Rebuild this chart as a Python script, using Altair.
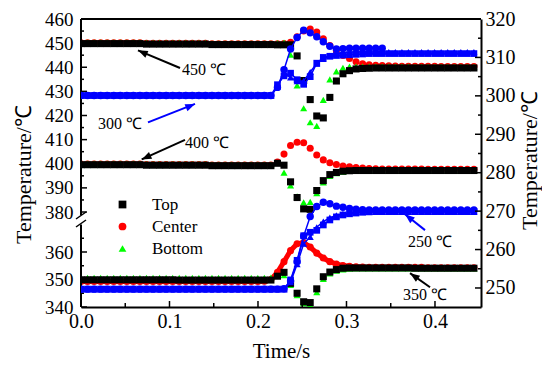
import altair as alt
import pandas as pd

# ---------------- data ----------------
TIME = [0.0, 0.0074, 0.0148, 0.0222, 0.0296, 0.037, 0.0444, 0.0518, 0.0592, 0.0666,
        0.074, 0.0814, 0.0888, 0.0962, 0.1036, 0.111, 0.1184, 0.1258, 0.1332, 0.1406,
        0.148, 0.1554, 0.1628, 0.1702, 0.1776, 0.185, 0.1924, 0.1998, 0.2072, 0.2146,
        0.222, 0.2294, 0.2368, 0.2442, 0.2516, 0.259, 0.2664, 0.2738, 0.2812, 0.2886,
        0.296, 0.3034, 0.3108, 0.3182, 0.3256, 0.333, 0.3404, 0.3478, 0.3552, 0.3626,
        0.37, 0.3774, 0.3848, 0.3922, 0.3996, 0.407, 0.4144, 0.4218, 0.4292, 0.4366,
        0.444]

# left axis cases (450, 400, 350 degC)
TOP_450 = [449.8, 449.8, 449.8, 449.8, 449.8, 449.8, 449.8, 449.8, 449.8, 449.8,
           449.6, 449.6, 449.6, 449.6, 449.6, 449.6, 449.6, 449.6, 449.6, 449.6,
           449.4, 449.4, 449.4, 449.4, 449.4, 449.4, 449.4, 449.4, 449.4, 449.4,
           449.3, 449.3, 449.3, 444.7, 434.5, 426.6, 419.8, 419.0, 427.5, 434.3,
           437.3, 438.6, 439.3, 439.5, 439.6, 439.7, 439.7, 439.7, 439.7, 439.7,
           439.7, 439.7, 439.7, 439.7, 439.7, 439.7, 439.7, 439.7, 439.7, 439.7,
           439.7]
CENTER_450 = [450.1, 450.1, 450.1, 450.1, 450.1, 450.1, 450.1, 450.1, 450.1, 450.1,
              449.9, 449.9, 449.9, 449.9, 449.9, 449.9, 449.9, 449.9, 449.9, 449.9,
              449.7, 449.7, 449.7, 449.7, 449.7, 449.7, 449.7, 449.7, 449.7, 449.7,
              449.7, 449.8, 450.3, 452.6, 455.0, 455.8, 454.6, 451.8, 449.0, 446.8,
              444.9, 443.6, 442.3, 441.4, 441.0, 440.8, 440.7, 440.6, 440.5, 440.4,
              440.4, 440.4, 440.4, 440.4, 440.4, 440.3, 440.3, 440.3, 440.3, 440.3,
              440.3]
BOTTOM_450 = [450.3, 450.3, 450.3, 450.3, 450.3, 450.3, 450.3, 450.3, 450.3, 450.3,
              450.1, 450.1, 450.1, 450.1, 450.1, 450.1, 450.1, 450.1, 450.1, 450.1,
              449.9, 449.9, 449.9, 449.9, 449.9, 449.9, 449.9, 449.9, 449.9, 449.9,
              450.0, 450.2, 445.2, 432.5, 423.0, 417.2, 415.7, 426.5, 435.0, 438.3,
              439.8, 440.3, 440.3, 440.3, 440.3, 440.3, 440.3, 440.3, 440.3, 440.3,
              440.3, 440.2, 440.2, 440.2, 440.2, 440.2, 440.2, 440.2, 440.2, 440.2,
              440.2]
TOP_400 = [399.6, 399.6, 399.6, 399.6, 399.6, 399.6, 399.6, 399.6, 399.6, 399.6,
           399.4, 399.4, 399.4, 399.4, 399.4, 399.4, 399.4, 399.4, 399.4, 399.4,
           399.2, 399.2, 399.2, 399.2, 399.2, 399.2, 399.2, 399.2, 399.2, 399.2,
           400.2, 399.4, 392.5, 386.0, 381.3, 381.1, 388.9, 393.0, 395.5, 396.4,
           396.9, 397.1, 397.2, 397.2, 397.2, 397.2, 397.2, 397.2, 397.2, 397.2,
           397.2, 397.2, 397.2, 397.2, 397.2, 397.2, 397.2, 397.2, 397.2, 397.2,
           397.2]
CENTER_400 = [399.9, 399.9, 399.9, 399.9, 399.9, 399.9, 399.9, 399.9, 399.9, 399.9,
              399.7, 399.7, 399.7, 399.7, 399.7, 399.7, 399.7, 399.7, 399.7, 399.7,
              399.5, 399.5, 399.5, 399.5, 399.5, 399.5, 399.5, 399.5, 399.5, 399.5,
              400.7, 404.0, 407.6, 408.9, 408.7, 406.4, 403.6, 401.6, 400.4, 399.7,
              399.1, 398.7, 398.4, 398.2, 398.0, 397.9, 397.8, 397.8, 397.8, 397.8,
              397.8, 397.8, 397.8, 397.7, 397.7, 397.7, 397.7, 397.7, 397.7, 397.7,
              397.7]
BOTTOM_400 = [400.1, 400.1, 400.1, 400.1, 400.1, 400.1, 400.1, 400.1, 400.1, 400.1,
              399.9, 399.9, 399.9, 399.9, 399.9, 399.9, 399.9, 399.9, 399.9, 399.9,
              399.7, 399.7, 399.7, 399.7, 399.7, 399.7, 399.7, 399.7, 399.7, 399.7,
              400.3, 396.3, 391.0, 386.5, 384.0, 384.2, 387.8, 392.3, 395.0, 396.1,
              396.7, 397.0, 397.1, 397.1, 397.1, 397.1, 397.1, 397.1, 397.1, 397.1,
              397.1, 397.1, 397.1, 397.1, 397.1, 397.1, 397.1, 397.1, 397.1, 397.1,
              397.1]
TOP_350 = [349.9, 349.9, 349.9, 349.9, 349.9, 349.9, 349.9, 349.9, 349.9, 349.9,
           349.9, 349.9, 349.9, 349.9, 349.9, 349.8, 349.8, 349.8, 349.8, 349.8,
           349.8, 349.8, 349.8, 349.8, 349.8, 349.8, 349.8, 349.8, 349.8, 349.8,
           351.2, 352.6, 348.6, 345.0, 341.9, 341.6, 346.6, 351.0, 352.7, 353.6,
           354.1, 354.2, 354.2, 354.2, 354.2, 354.2, 354.2, 354.2, 354.2, 354.2,
           354.2, 354.1, 354.1, 354.1, 354.1, 354.1, 354.1, 354.1, 354.1, 354.1,
           354.1]
CENTER_350 = [349.3, 349.3, 349.3, 349.3, 349.3, 349.3, 349.3, 349.3, 349.3, 349.3,
              349.3, 349.3, 349.3, 349.3, 349.3, 349.3, 349.3, 349.3, 349.3, 349.3,
              349.3, 349.3, 349.3, 349.3, 349.3, 349.3, 349.3, 349.3, 349.4, 350.0,
              352.6, 356.5, 360.5, 363.0, 363.4, 361.8, 359.6, 357.8, 356.5, 355.6,
              355.1, 354.8, 354.6, 354.5, 354.4, 354.4, 354.4, 354.4, 354.4, 354.4,
              354.4, 354.4, 354.4, 354.3, 354.3, 354.3, 354.3, 354.3, 354.3, 354.3,
              354.3]
BOTTOM_350 = [350.6, 350.6, 350.6, 350.6, 350.6, 350.6, 350.6, 350.6, 350.6, 350.6,
              350.6, 350.6, 350.6, 350.6, 350.6, 350.6, 350.6, 350.6, 350.6, 350.6,
              350.6, 350.6, 350.6, 350.6, 350.6, 350.6, 350.6, 350.6, 350.6, 350.7,
              351.4, 351.6, 348.0, 344.3, 341.4, 340.8, 345.4, 350.2, 352.2, 353.2,
              353.7, 353.9, 354.0, 354.0, 354.0, 354.0, 354.0, 354.0, 354.0, 354.0,
              354.0, 354.0, 354.0, 354.0, 354.0, 354.0, 354.0, 354.0, 354.0, 354.0,
              354.0]

# right axis cases (300, 250 degC), blue
TOP_300 = [300.1, 300.1, 300.1, 300.1, 300.1, 300.1, 300.1, 300.1, 300.1, 300.1,
           300.1, 300.1, 300.1, 300.1, 300.1, 300.1, 300.1, 300.1, 300.1, 300.1,
           300.1, 300.1, 300.1, 300.1, 300.1, 300.1, 300.1, 300.1, 300.1, 300.1,
           302.9, 305.2, 305.9, 304.2, 303.0, 305.0, 308.5, 310.0, 310.3, 310.5,
           310.6, 310.7, 310.8, 310.9, 311.0, 311.0, 311.0, 311.0, 311.0, 311.0,
           311.0, 311.0, 311.0, 311.0, 311.0, 311.0, 311.0, 311.0, 311.0, 311.0,
           311.0]
CENTER_300 = [300.1, 300.1, 300.1, 300.1, 300.1, 300.1, 300.1, 300.1, 300.1, 300.1,
              300.1, 300.1, 300.1, 300.1, 300.1, 300.1, 300.1, 300.1, 300.1, 300.1,
              300.1, 300.1, 300.1, 300.1, 300.1, 300.1, 300.1, 300.1, 300.1, 300.1,
              302.2, 306.8, 312.2, 315.2, 317.1, 316.4, 315.4, 314.1, 312.9, 312.2,
              312.3, 312.4, 312.4, 312.4, 312.4, 312.4, 312.4, None, None, None,
              None, None, None, None, None, None, None, None, None, None,
              None]
BOTTOM_300 = [300.1, 300.1, 300.1, 300.1, 300.1, 300.1, 300.1, 300.1, 300.1, 300.1,
              300.1, 300.1, 300.1, 300.1, 300.1, 300.1, 300.1, 300.1, 300.1, 300.1,
              300.1, 300.1, 300.1, 300.1, 300.1, 300.1, 300.1, 300.1, 300.1, 300.1,
              302.4, 305.8, 304.8, 303.8, 303.9, 306.2, 308.4, 309.6, 310.4, 310.9,
              311.2, 311.4, 311.4, 311.4, 311.4, 311.4, 311.4, 311.4, 311.4, 311.4,
              311.4, 311.4, 311.4, 311.4, 311.4, 311.4, 311.4, 311.4, 311.4, 311.4,
              311.4]
TOP_250 = [249.7, 249.7, 249.7, 249.7, 249.7, 249.7, 249.7, 249.7, 249.7, 249.7,
           249.7, 249.7, 249.7, 249.7, 249.7, 249.7, 249.7, 249.7, 249.7, 249.7,
           249.7, 249.7, 249.7, 249.7, 249.7, 249.7, 249.7, 249.7, 249.7, 249.7,
           249.7, 249.7, 252.1, 257.2, 263.6, 264.5, 265.0, 266.4, 267.7, 268.5,
           269.0, 269.3, 269.5, 269.7, 269.8, 269.9, 269.9, 269.9, 269.9, 269.9,
           269.9, 269.9, 269.9, 269.9, 269.9, 269.9, 269.9, 269.9, 269.9, 269.9,
           269.9]
CENTER_250 = [249.7, 249.7, 249.7, 249.7, 249.7, 249.7, 249.7, 249.7, 249.7, 249.7,
              249.7, 249.7, 249.7, 249.7, 249.7, 249.7, 249.7, 249.7, 249.7, 249.7,
              249.7, 249.7, 249.7, 249.7, 249.7, 249.7, 249.7, 249.7, 249.7, 249.7,
              249.7, 249.8, 251.8, 256.8, 263.5, 268.6, 271.2, 272.3, 271.9, 271.3,
              271.0, 270.7, 270.5, 270.4, 270.3, 270.3, 270.3, 270.3, 270.3, 270.3,
              270.3, 270.3, 270.3, 270.3, 270.3, 270.3, 270.3, 270.3, 270.3, 270.3,
              270.3]
BOTTOM_250 = [249.7, 249.7, 249.7, 249.7, 249.7, 249.7, 249.7, 249.7, 249.7, 249.7,
              249.7, 249.7, 249.7, 249.7, 249.7, 249.7, 249.7, 249.7, 249.7, 249.7,
              249.7, 249.7, 249.7, 249.7, 249.7, 249.7, 249.7, 249.7, 249.7, 249.7,
              249.7, 249.7, 251.5, 256.2, 261.5, 263.3, 265.8, 267.3, 268.3, 268.9,
              269.3, 269.6, 269.8, 269.8, 269.8, 269.8, 269.8, 269.8, 269.8, 269.8,
              269.8, 269.8, 269.8, 269.8, 269.8, 269.8, 269.8, 269.8, 269.8, 269.8,
              269.8]

SERIES = ["Top", "Center", "Bottom"]
COLORS = ["#000000", "#ff0000", "#00ff00"]
SHAPES = ["square", "circle", "triangle-up"]
BLUE = "#0000ff"

X_MAJOR = [0.0, 0.1, 0.2, 0.3, 0.4]
X_MINOR = [0.05, 0.15, 0.25, 0.35]
LEFT_MAJOR = [340, 350, 360, 380, 390, 400, 410, 420, 430, 440, 450, 460]
LEFT_MINOR = [345, 355, 365, 385, 395, 405, 415, 425, 435, 445, 455]
RIGHT_MAJOR = [250, 260, 270, 280, 290, 300, 310, 320]
RIGHT_MINOR = [255, 265, 275, 285, 295, 305, 315]

# annotations: label, text pos, arrow tail, arrow head, head angle
ANN_LEFT_LABEL = ["450 ℃", "400 ℃", "350 ℃"]
ANN_LEFT_TX = [0.1141, 0.1175, 0.3638]
ANN_LEFT_TY = [438.9, 408.5, 344.2]
ANN_LEFT_T1 = [0.1119, 0.1175, 0.3944]
ANN_LEFT_V1 = [439.7, 409.9, 347.2]
ANN_LEFT_T2 = [0.0644, 0.0686, 0.3718]
ANN_LEFT_V2 = [447.0, 401.8, 352.3]
ANN_LEFT_ANG = [294, 245, 305]

ANN_RIGHT_LABEL = ["300 ℃", "250 ℃"]
ANN_RIGHT_TX = [0.0192, 0.3695]
ANN_RIGHT_TY = [292.6, 262.05]
ANN_RIGHT_T1 = [0.0757, 0.3887]
ANN_RIGHT_V1 = [293.1, 265.05]
ANN_RIGHT_T2 = [0.1288, 0.3661]
ANN_RIGHT_V2 = [297.9, 269.2]
ANN_RIGHT_ANG = [67, 309]

# ---------------- tables ----------------
LEFT_CASES = [("450", TOP_450, CENTER_450, BOTTOM_450),
              ("400", TOP_400, CENTER_400, BOTTOM_400),
              ("350", TOP_350, CENTER_350, BOTTOM_350)]
RIGHT_CASES = [("300", TOP_300, CENTER_300, BOTTOM_300),
               ("250", TOP_250, CENTER_250, BOTTOM_250)]


def to_long(cases):
    rows = []
    for case, *arrs in cases:
        for s, arr in zip(SERIES, arrs):
            for t, v in zip(TIME, arr):
                if v is not None:
                    rows.append({"t": t, "v": v, "series": s, "case": case,
                                 "key": case + s})
    return pd.DataFrame(rows)


left_df = to_long(LEFT_CASES)
right_df = to_long(RIGHT_CASES)
rank = {"Center": 0, "Bottom": 1, "Top": 2}
left_df = left_df.assign(r=left_df["series"].map(rank)).sort_values("r", kind="stable")

W, H = 400, 288
FONT = "Liberation Serif"

x_scale = alt.Scale(domain=[0, 0.452], nice=False, zero=False)
x_axis = alt.Axis(title="Time/s", values=X_MAJOR, format=".1f", ticks=False,
                  domainColor="black", domainWidth=2, labelFontSize=20,
                  labelPadding=4, labelFlush=False, titleFontSize=21, titleY=33,
                  labelFont=FONT, titleFont=FONT, titleFontWeight="normal",
                  labelColor="black", titleColor="black", grid=False)
left_scale = alt.Scale(domain=[340, 370, 378.8, 460], range=[288, 205.5, 195.9, 0],
                       nice=False, zero=False)
left_axis = alt.Axis(title="Temperature/℃", orient="left", values=LEFT_MAJOR,
                     ticks=False, domain=False, labelFontSize=19, labelPadding=8,
                     titleFontSize=22, titleAngle=270, titleX=-46, titleY=155,
                     titleAlign="center", titleBaseline="bottom",
                     labelFont=FONT, titleFont=FONT, titleFontWeight="normal",
                     labelColor="black", titleColor="black", grid=False)
right_scale = alt.Scale(domain=[245.05, 320], nice=False, zero=False)
right_axis = alt.Axis(title="Temperature/℃", orient="right", values=RIGHT_MAJOR,
                      ticks=False, domain=True, domainColor="black", domainWidth=2,
                      labelFontSize=20, labelPadding=4, titleFontSize=22,
                      titleAngle=270, titleX=60, titleY=141, titleAlign="center",
                      titleBaseline="bottom",
                      labelFont=FONT, titleFont=FONT, titleFontWeight="normal",
                      labelColor="black", titleColor="black", grid=False)


def XF(f="t"):
    return alt.X(f + ":Q", scale=x_scale, axis=x_axis)


def YL(f="v"):
    return alt.Y(f + ":Q", scale=left_scale, axis=left_axis)


def YR(f="v"):
    return alt.Y(f + ":Q", scale=right_scale, axis=right_axis)


legend = alt.Legend(title=None, orient="none", legendX=33, legendY=177,
                    direction="vertical", labelFont=FONT, labelFontSize=17,
                    labelColor="black", symbolSize=60, symbolStrokeWidth=0,
                    rowPadding=4, labelOffset=21, padding=0)

one = pd.DataFrame({"k": [0]})

# ---- left group ----
red350 = alt.Chart(left_df[(left_df["case"] == "350") & (left_df["series"] == "Center")]).mark_line(
    color="#ff0000", strokeWidth=5, clip=True).encode(x=XF(), y=YL())

left_pts = alt.Chart(left_df).mark_point(filled=True, size=50, opacity=1,
                                          strokeWidth=0, clip=True).encode(
    x=XF(), y=YL(),
    color=alt.Color("series:N", scale=alt.Scale(domain=SERIES, range=COLORS), legend=legend),
    shape=alt.Shape("series:N", scale=alt.Scale(domain=SERIES, range=SHAPES), legend=legend),
    order=alt.Order("r:Q"))

seg_df = pd.DataFrame({"v": [340, 378.8], "v2": [370, 460]})
left_segs = alt.Chart(seg_df).mark_rule(color="black", strokeWidth=2).encode(
    x=alt.value(0), y=YL("v"), y2="v2:Q")
brk1 = alt.Chart(one).mark_rule(color="black", strokeWidth=1.5).encode(
    x=alt.value(-5), x2=alt.value(5), y=alt.value(200), y2=alt.value(193))
brk2 = alt.Chart(one).mark_rule(color="black", strokeWidth=1.5).encode(
    x=alt.value(-5), x2=alt.value(5), y=alt.value(208), y2=alt.value(201))
top_rule = alt.Chart(one).mark_rule(color="black", strokeWidth=2).encode(
    x=alt.value(0), x2=alt.value(W), y=alt.value(0))

lt_major = alt.Chart(pd.DataFrame({"v": LEFT_MAJOR})).mark_rule(color="black", strokeWidth=1.5).encode(
    y=YL(), x=alt.value(0), x2=alt.value(6))
lt_minor = alt.Chart(pd.DataFrame({"v": LEFT_MINOR})).mark_rule(color="black", strokeWidth=1.5).encode(
    y=YL(), x=alt.value(0), x2=alt.value(3))
xt_major = alt.Chart(pd.DataFrame({"t": X_MAJOR})).mark_rule(color="black", strokeWidth=1.5).encode(
    x=XF(), y=alt.value(H), y2=alt.value(H - 6))
xt_minor = alt.Chart(pd.DataFrame({"t": X_MINOR})).mark_rule(color="black", strokeWidth=1.5).encode(
    x=XF(), y=alt.value(H), y2=alt.value(H - 4))

annL = pd.DataFrame({"label": ANN_LEFT_LABEL, "tx": ANN_LEFT_TX, "ty": ANN_LEFT_TY,
                     "t1": ANN_LEFT_T1, "v1": ANN_LEFT_V1, "t2": ANN_LEFT_T2,
                     "v2": ANN_LEFT_V2, "ang": ANN_LEFT_ANG})
HEAD = "M0,0 L0.38,1 L-0.38,1 Z"
annL_rule = alt.Chart(annL).mark_rule(color="black", strokeWidth=2).encode(
    x=XF("t1"), x2="t2:Q", y=YL("v1"), y2="v2:Q")
annL_head = alt.Chart(annL).mark_point(shape=HEAD, filled=True, size=380, color="black",
                                       strokeWidth=0, opacity=1).encode(
    x=XF("t2"), y=YL("v2"), angle=alt.Angle("ang:Q", scale=None))
annL_text = alt.Chart(annL).mark_text(align="left", baseline="middle", font=FONT,
                                      fontSize=16, color="black").encode(
    x=XF("tx"), y=YL("ty"), text="label:N")

left_group = alt.layer(red350, left_pts, left_segs, brk1, brk2, top_rule,
                       lt_major, lt_minor, xt_major, xt_minor,
                       annL_rule, annL_head, annL_text)

# ---- right group ----
blue_layers = []
blue_layers.append(alt.Chart(right_df).mark_line(color=BLUE, strokeWidth=1.5, clip=True).encode(
    x=XF(), y=YR(), detail="key:N"))
for s, shp, sz in zip(["Top", "Bottom", "Center"], ["square", "triangle-up", "circle"], [45, 50, 55]):
    blue_layers.append(alt.Chart(right_df[right_df["series"] == s]).mark_point(
        shape=shp, filled=True, size=sz, color=BLUE, opacity=1, strokeWidth=0,
        clip=True).encode(x=XF(), y=YR()))

rt_major = alt.Chart(pd.DataFrame({"v": RIGHT_MAJOR})).mark_rule(color="black", strokeWidth=1.5).encode(
    y=YR(), x=alt.value(W - 6), x2=alt.value(W))
rt_minor = alt.Chart(pd.DataFrame({"v": RIGHT_MINOR})).mark_rule(color="black", strokeWidth=1.5).encode(
    y=YR(), x=alt.value(W - 3), x2=alt.value(W))

annR = pd.DataFrame({"label": ANN_RIGHT_LABEL, "tx": ANN_RIGHT_TX, "ty": ANN_RIGHT_TY,
                     "t1": ANN_RIGHT_T1, "v1": ANN_RIGHT_V1, "t2": ANN_RIGHT_T2,
                     "v2": ANN_RIGHT_V2, "ang": ANN_RIGHT_ANG})
annR_rule = alt.Chart(annR).mark_rule(color=BLUE, strokeWidth=2).encode(
    x=XF("t1"), x2="t2:Q", y=YR("v1"), y2="v2:Q")
annR_head = alt.Chart(annR).mark_point(shape=HEAD, filled=True, size=380, color=BLUE,
                                       strokeWidth=0, opacity=1).encode(
    x=XF("t2"), y=YR("v2"), angle=alt.Angle("ang:Q", scale=None))
annR_text = alt.Chart(annR).mark_text(align="left", baseline="middle", font=FONT,
                                      fontSize=16, color="black").encode(
    x=XF("tx"), y=YR("ty"), text="label:N")

right_group = alt.layer(*blue_layers, rt_major, rt_minor, annR_rule, annR_head, annR_text)

chart = alt.layer(left_group, right_group).resolve_scale(y="independent").properties(
    width=W, height=H,
    autosize=alt.AutoSizeParams(type="none"),
    padding={"left": 73, "top": 11, "right": 61, "bottom": 59},
).configure(font=FONT).configure_view(stroke=None).configure_axis(
    labelFont=FONT, titleFont=FONT, labelColor="black", titleColor="black",
    titleFontWeight="normal", grid=False
)

chart.save("out.html", embed_options={"renderer": "svg", "actions": False})
